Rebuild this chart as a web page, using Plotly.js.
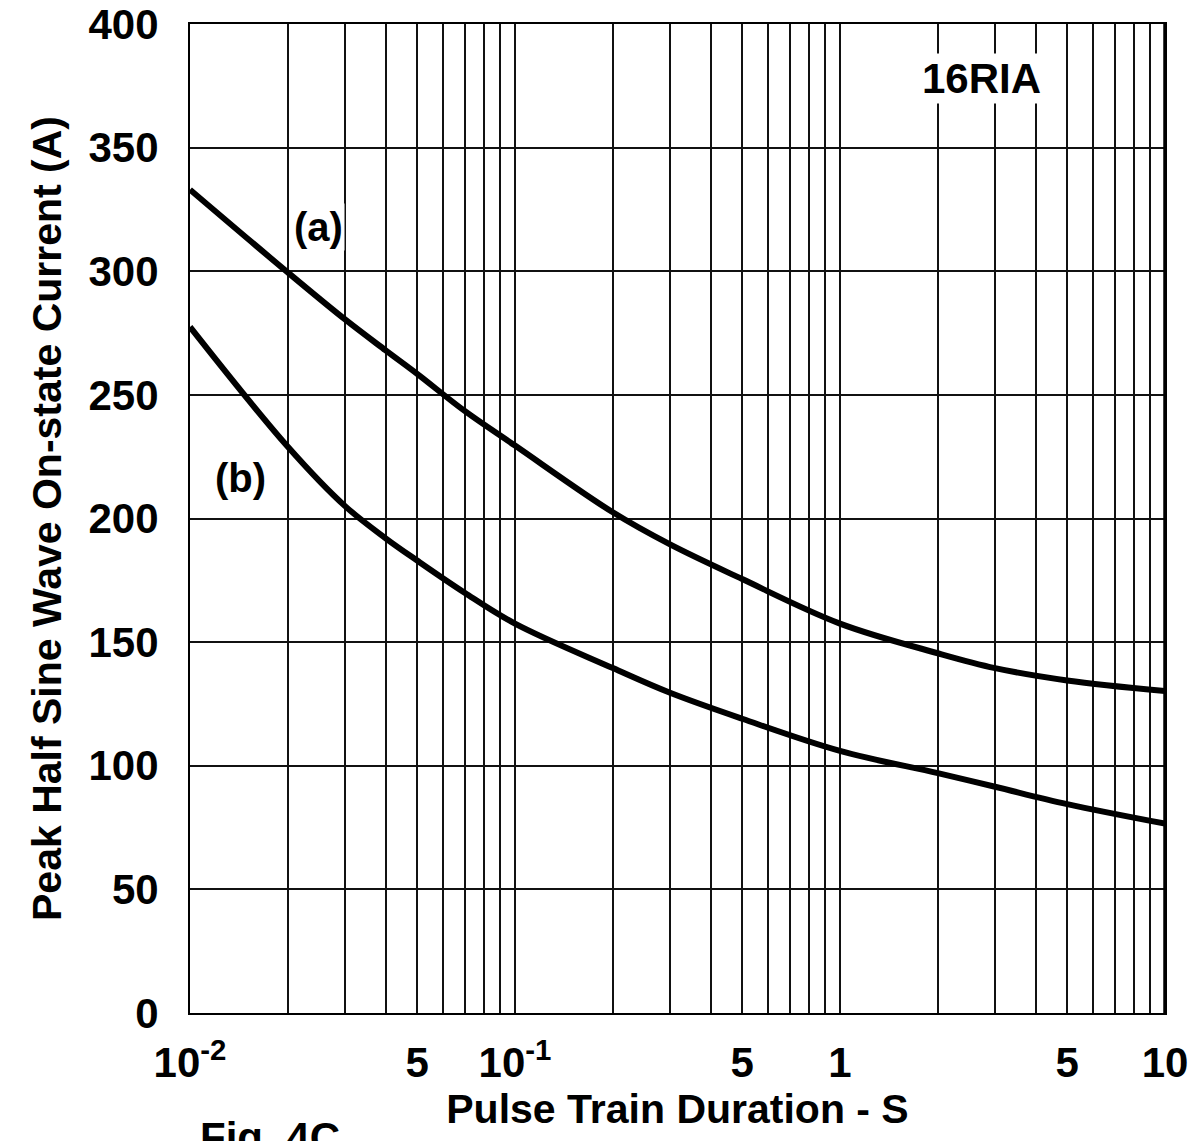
<!DOCTYPE html>
<html>
<head>
<meta charset="utf-8">
<script src="https://cdn.plot.ly/plotly-3.0.1.min.js"></script>
<style>
  html, body { margin: 0; padding: 0; background: #ffffff; }
  #chart { width: 1203px; height: 1141px; }
</style>
</head>
<body>
<div id="chart"></div>
<script>
// Pulse train duration (s)
const durationA = [0.01, 0.02, 0.03, 0.04, 0.05, 0.07, 0.1, 0.2, 0.3, 0.5, 1, 2, 3, 5, 10];
// Curve (a): peak half sine wave on-state current (A)
const currentA  = [333, 299.5, 280.5, 268, 258.5, 243.5, 229.5, 202.5, 189.5, 175.5, 157.5, 145.5, 139.5, 134.5, 130.2];
// Curve (b)
const durationB = [0.01, 0.02, 0.03, 0.04, 0.05, 0.07, 0.1, 0.2, 0.3, 0.5, 1, 2, 3, 5, 10];
const currentB  = [277.5, 229, 205, 192, 183, 170, 157.5, 139.5, 129.5, 119, 106, 97, 91.5, 84.5, 76.6];

// Axis ticks / grid
const xGridVals = [0.01,0.02,0.03,0.04,0.05,0.06,0.07,0.08,0.09,
                   0.1,0.2,0.3,0.4,0.5,0.6,0.7,0.8,0.9,
                   1,2,3,4,5,6,7,8,9,10];
const xLabelMap = {0.01: "10<sup>-2</sup>", 0.05: "5", 0.1: "10<sup>-1</sup>", 0.5: "5", 1: "1", 5: "5", 10: "10"};
const xTickText = xGridVals.map(v => xLabelMap[v] !== undefined ? xLabelMap[v] : "");
const yTickVals = [0, 50, 100, 150, 200, 250, 300, 350, 400];

const FONT = "Liberation Sans, Arial, Helvetica, sans-serif";

const traces = [
  { x: durationA, y: currentA, mode: "lines", name: "(a)",
    line: { color: "#000000", width: 6, shape: "spline", smoothing: 1.0 } },
  { x: durationB, y: currentB, mode: "lines", name: "(b)",
    line: { color: "#000000", width: 6, shape: "spline", smoothing: 1.0 } }
];

const layout = {
  width: 1203, height: 1141,
  margin: { l: 190, r: 38, t: 24, b: 128 },
  paper_bgcolor: "#ffffff", plot_bgcolor: "#ffffff",
  showlegend: false,
  font: { family: FONT, color: "#000000", size: 42, weight: "bold" },
  xaxis: {
    type: "log", range: [-2, 1],
    tickmode: "array", tickvals: xGridVals, ticktext: xTickText,
    tickangle: 0,
    ticks: "", ticklabelstandoff: 12,
    tickfont: { family: FONT, size: 42, color: "#000", weight: "bold" },
    showgrid: true, gridcolor: "#111111", gridwidth: 2,
    showline: true, linecolor: "#000000", linewidth: 2, mirror: true,
    zeroline: false,
    title: { text: "Pulse Train Duration - S", standoff: 8,
             font: { family: FONT, size: 41, color: "#000", weight: "bold" } }
  },
  yaxis: {
    range: [0, 400], tickmode: "array", tickvals: yTickVals,
    ticks: "", ticklabelstandoff: 21,
    tickfont: { family: FONT, size: 42, color: "#000", weight: "bold" },
    showgrid: true, gridcolor: "#111111", gridwidth: 2,
    showline: true, linecolor: "#000000", linewidth: 2, mirror: true,
    zeroline: false,
    title: { text: "Peak Half Sine Wave On-state Current (A)", standoff: 14,
             font: { family: FONT, size: 41, color: "#000", weight: "bold" } }
  },
  shapes: [
    { type: "line", xref: "paper", yref: "paper", x0: 1, x1: 1, y0: 0, y1: 1,
      line: { color: "#000000", width: 3.5 } }
  ],
  annotations: [
    { x: Math.log10(0.0248), y: 318, xref: "x", yref: "y", text: "(a)", showarrow: false,
      font: { family: FONT, size: 40, color: "#000", weight: "bold" }, bgcolor: "#ffffff" },
    { x: Math.log10(0.01426), y: 216.5, xref: "x", yref: "y", text: "(b)", showarrow: false,
      font: { family: FONT, size: 40, color: "#000", weight: "bold" }, bgcolor: "#ffffff" },
    { x: Math.log10(2.73), y: 378, xref: "x", yref: "y", text: "16RIA", showarrow: false,
      font: { family: FONT, size: 42, color: "#000", weight: "bold" }, bgcolor: "#ffffff" },
    { x: 0.082, y: -0.1, xref: "paper", yref: "paper", xanchor: "center", yanchor: "top",
      text: "Fig. 4C", showarrow: false,
      font: { family: FONT, size: 42, color: "#000", weight: "bold" } }
  ]
};

Plotly.newPlot("chart", traces, layout, { staticPlot: true, displayModeBar: false });
</script>
</body>
</html>
